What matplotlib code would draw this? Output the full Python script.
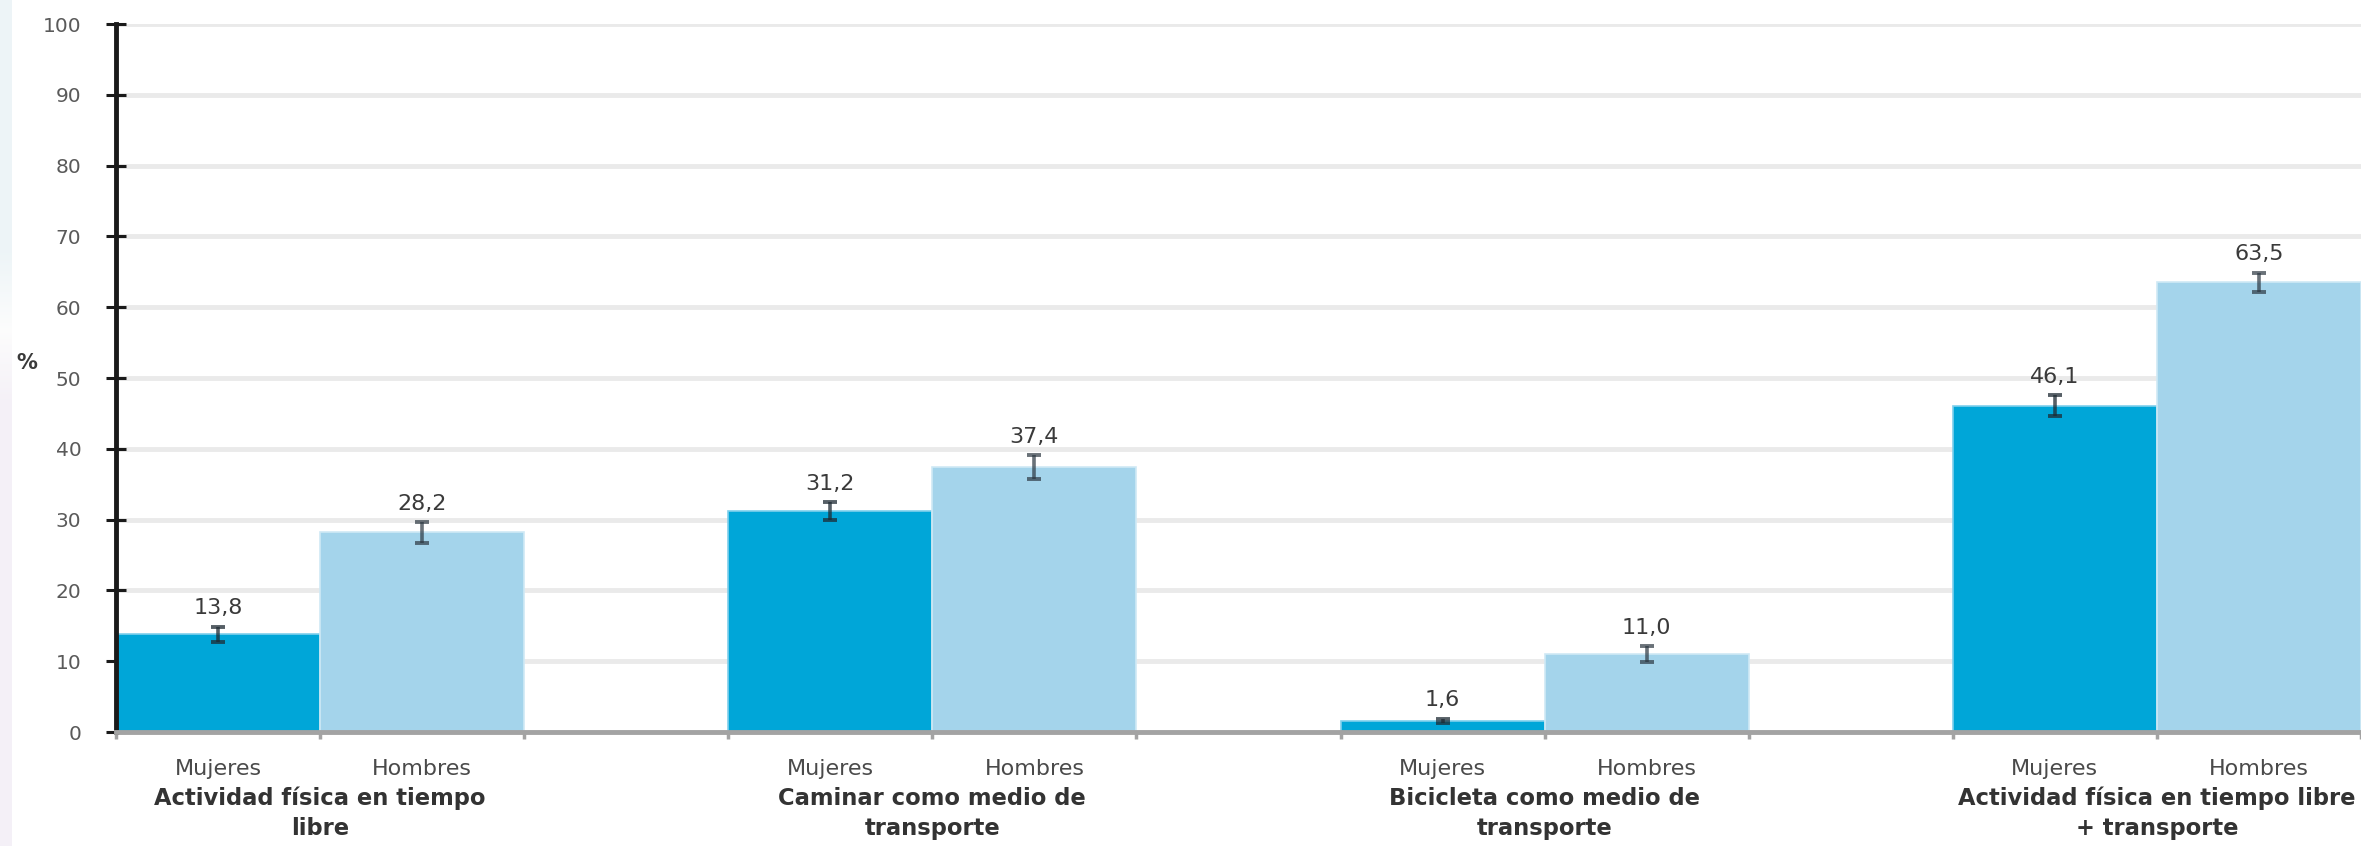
import numpy as np
import matplotlib
matplotlib.use("Agg")
import matplotlib.pyplot as plt

# Physical activity by sex, percentage with 95% CI
categorias = ["Actividad física en tiempo\nlibre",
              "Caminar como medio de\ntransporte",
              "Bicicleta como medio de\ntransporte",
              "Actividad física en tiempo libre\n+ transporte"]
sexos = ["Mujeres", "Hombres"]
mujeres = [13.8, 31.2, 1.6, 46.1]
hombres = [28.2, 37.4, 11.0, 63.5]
err_mujeres = [1.1, 1.3, 0.3, 1.5]
err_hombres = [1.5, 1.7, 1.1, 1.4]
yticks = list(range(0, 101, 10))

COL_M = "#00A6D8"
COL_H = "#A4D4EB"

plt.rcParams["font.family"] = ["DejaVu Sans"]

W, H = 2361, 846
fig = plt.figure(figsize=(W / 100, H / 100), dpi=100)

# thin coloured strip on the left page margin
strip = fig.add_axes([0, 0, 12 / W, 1])
top = np.array([0.93, 0.96, 0.97])
mid = np.array([0.99, 0.99, 0.99])
bot = np.array([0.96, 0.945, 0.97])
rows = []
for k in range(H):
    if k < 250:
        c = top
    elif k < 330:
        c = top + (mid - top) * (k - 250) / 80
    elif k < 400:
        c = mid + (bot - mid) * (k - 330) / 70
    else:
        c = bot
    rows.append(c)
strip.imshow(np.array(rows)[:, None, :], aspect="auto")
strip.axis("off")

x0, y0 = 116, 732
px_unit = 205.4
ax = fig.add_axes([x0 / W, (H - y0) / H, (W - x0) / W, (y0 - 24) / H])
ax.set_xlim(0, (W - x0) / px_unit)
ax.set_ylim(0, 100)

x = np.arange(len(categorias)) * 3.0
ax.bar(x, mujeres, width=1, align="edge", color=COL_M,
       edgecolor="#7FD0EC", linewidth=1.2, zorder=2)
ax.bar(x + 1, hombres, width=1, align="edge", color=COL_H,
       edgecolor="#CFE9F5", linewidth=1.2, zorder=2)

ax.errorbar(x + 0.5, mujeres, yerr=err_mujeres, fmt="none", ecolor="#1e2a33",
            elinewidth=2.6, capsize=5, capthick=2.8, alpha=0.75, zorder=3)
ax.errorbar(x + 1.5, hombres, yerr=err_hombres, fmt="none", ecolor="#2b3640",
            elinewidth=2.6, capsize=5, capthick=2.8, alpha=0.7, zorder=3)

for xi, v, e in zip(x + 0.5, mujeres, err_mujeres):
    ax.annotate(f"{v:.1f}".replace(".", ","), (xi, v + e), xytext=(0, 13),
                textcoords="offset points", ha="center", va="center",
                fontsize=16, color="#3a3a3a")
for xi, v, e in zip(x + 1.5, hombres, err_hombres):
    ax.annotate(f"{v:.1f}".replace(".", ","), (xi, v + e), xytext=(0, 13),
                textcoords="offset points", ha="center", va="center",
                fontsize=16, color="#3a3a3a")

# sex labels under each bar, category (two lines) under each pair
for xi, cat in zip(x, categorias):
    for j, s in enumerate(sexos):
        ax.text(xi + 0.5 + j, -5.2, s, ha="center", va="center",
                fontsize=16, color="#4a4a4a", clip_on=False)
    for k, linea in enumerate(cat.split("\n")):
        ax.text(xi + 1, -9.4 - 4.25 * k, linea, ha="center", va="center",
                fontsize=16.3, fontweight="bold", color="#333333",
                clip_on=False)

ax.set_yticks(yticks)
ax.set_yticklabels([str(t) for t in yticks], fontsize=14.5, color="#5a5a5a")
edges = np.sort(np.concatenate([x, x + 1, x + 2]))
ax.set_xticks(edges)
ax.set_xticklabels([])

ax.grid(axis="y", color="#EAEAEA", linewidth=3.5, zorder=0)
ax.set_axisbelow(True)
for s in ["top", "right"]:
    ax.spines[s].set_visible(False)
ax.spines["left"].set_color("#1a1a1a")
ax.spines["left"].set_linewidth(3.5)
ax.spines["left"].set_zorder(4)
ax.spines["bottom"].set_color("#A3A3A3")
ax.spines["bottom"].set_linewidth(3.5)
ax.spines["bottom"].set_zorder(4)
ax.tick_params(axis="y", direction="inout", length=14, width=2.2,
               color="#1a1a1a", pad=18)
ax.tick_params(axis="x", direction="out", length=5, width=2.5,
               color="#A3A3A3")

fig.text(27 / W, 1 - 363 / H, "%", ha="center", va="center",
         fontsize=15, fontweight="bold", color="#3a3a3a")

fig.savefig("out.png", dpi=100)
